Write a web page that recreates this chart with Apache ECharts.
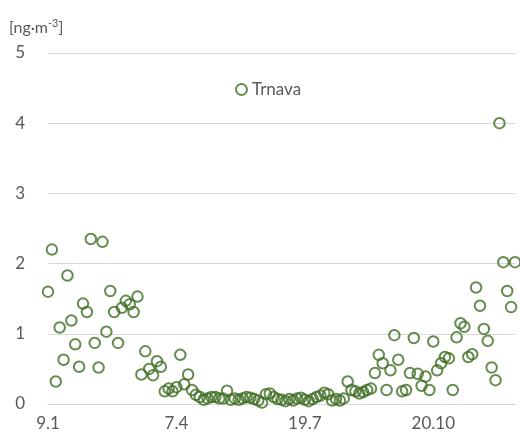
<!DOCTYPE html>
<html>
<head>
<meta charset="utf-8">
<script src="https://cdn.jsdelivr.net/npm/echarts@6/dist/echarts.min.js"></script>
<style>
  html, body { margin: 0; padding: 0; background: #fff; }
  #chart { width: 520px; height: 439px; }
</style>
</head>
<body>
<div id="chart"></div>
<script>
// tick labels on the category axis, one every labelStep samples
const tickLabels = ['9.1', '7.4', '19.7', '20.10']
const labelStep = 33

// Trnava, ng/m3, one value per sample
const trnava = [
  1.60, 2.20, 0.32, 1.09, 0.63, 1.83, 1.19, 0.85, 0.53, 1.43,
  1.31, 2.35, 0.87, 0.52, 2.31, 1.03, 1.61, 1.31, 0.87, 1.37,
  1.47, 1.42, 1.31, 1.53, 0.42, 0.75, 0.50, 0.41, 0.61, 0.53,
  0.18, 0.22, 0.18, 0.24, 0.70, 0.28, 0.42, 0.20, 0.13, 0.10,
  0.06, 0.08, 0.10, 0.10, 0.08, 0.08, 0.19, 0.06, 0.08, 0.06,
  0.08, 0.10, 0.09, 0.07, 0.05, 0.02, 0.14, 0.15, 0.10, 0.07,
  0.06, 0.04, 0.07, 0.05, 0.08, 0.09, 0.06, 0.04, 0.07, 0.10,
  0.12, 0.16, 0.14, 0.05, 0.07, 0.05, 0.08, 0.32, 0.20, 0.18,
  0.15, 0.17, 0.20, 0.22, 0.44, 0.70, 0.58, 0.20, 0.48, 0.98,
  0.63, 0.18, 0.20, 0.44, 0.94, 0.43, 0.26, 0.39, 0.20, 0.89,
  0.48, 0.58, 0.67, 0.65, 0.20, 0.95, 1.15, 1.10, 0.67, 0.71,
  1.66, 1.40, 1.07, 0.90, 0.52, 0.34, 4.00, 2.02, 1.61, 1.38,
  2.02
]

const categories = trnava.map((v, i) => (i % labelStep === 0 ? (tickLabels[i / labelStep] || '') : ''))

const green = '#3e6e23'
const textColor = '#595959'
const fontFamily = 'Lato, "Open Sans", sans-serif'

const chart = echarts.init(document.getElementById('chart'))

let option = {
  animation: false,
  textStyle: { fontFamily: fontFamily },
  grid: {
    left: 48,
    right: 5,
    top: 53,
    bottom: 35
  },
  legend: {
    data: ['Trnava'],
    left: 230,
    top: 76,
    itemWidth: 11,
    itemHeight: 11,
    icon: 'circle',
    itemStyle: {
      color: 'rgba(0,0,0,0)',
      borderColor: green,
      borderWidth: 2
    },
    textStyle: { color: textColor, fontSize: 17, fontFamily: fontFamily }
  },
  graphic: [
    {
      type: 'text',
      left: 9,
      top: 18,
      style: {
        text: '{a|[ng·m}{s|-3}{a|]}',
        rich: {
          a: { fontSize: 16, fill: textColor, fontFamily: fontFamily },
          s: { fontSize: 11, fill: textColor, fontFamily: fontFamily, verticalAlign: 'top', padding: [0, 0, 8, 0] }
        }
      }
    }
  ],
  xAxis: {
    type: 'category',
    data: categories,
    boundaryGap: false,
    axisLine: { lineStyle: { color: '#d9d9d9' } },
    axisTick: { show: false },
    axisLabel: {
      interval: labelStep - 1,
      color: textColor,
      fontSize: 17,
      margin: 11
    },
    splitLine: { show: false }
  },
  yAxis: {
    type: 'value',
    min: 0,
    max: 5,
    interval: 1,
    axisLine: { show: false },
    axisTick: { show: false },
    axisLabel: { color: textColor, fontSize: 17, margin: 23 },
    splitLine: { lineStyle: { color: '#d9d9d9', width: 1 } }
  },
  series: [
    {
      name: 'Trnava',
      type: 'scatter',
      data: trnava,
      symbol: 'circle',
      symbolSize: 10.5,
      itemStyle: {
        color: 'rgba(0,0,0,0)',
        borderColor: green,
        borderWidth: 2
      }
    }
  ]
}

chart.setOption(option)
</script>
</body>
</html>
